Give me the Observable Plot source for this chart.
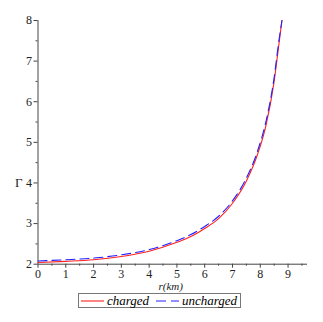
<!DOCTYPE html>
<html>
<head>
<meta charset="utf-8">
<script src="https://cdn.jsdelivr.net/npm/d3@7"></script>
<script src="https://cdn.jsdelivr.net/npm/@observablehq/plot@0.6"></script>
<style>
  body { margin: 0; background: #fff; font-family: "Liberation Serif", serif; }
  #wrap { width: 323px; }
  #wrap svg text { font-family: "Liberation Serif", "DejaVu Serif", serif; }
  #wrap > svg { overflow: visible; }
  .legend { margin: 1px 0 0 78px; width: 161px; height: 13px; border: 1px solid #777;
            display: flex; align-items: center; font-style: italic; font-size: 13px; line-height: 13px; }
  .legend svg { display: block; }
  .legend span { margin: 0 3px 0 3px; }
</style>
</head>
<body>
<div id="wrap"></div>
<script>
const r         = [0,    1,    2,    3,    4,    5,    5.5,  6,    6.5,  7,    7.5,  7.9,  8.2,  8.5,  8.65, 8.78];
const charged   = [2.04, 2.07, 2.11, 2.19, 2.32, 2.54, 2.68, 2.88, 3.12, 3.5,  4.05, 4.7,  5.4,  6.5,  7.3,  8.0];
const uncharged = [2.08, 2.11, 2.15, 2.23, 2.36, 2.58, 2.73, 2.93, 3.18, 3.56, 4.12, 4.78, 5.5,  6.6,  7.4,  8.0];
const xTicks = [0,1,2,3,4,5,6,7,8,9];
const yTicks = [2,3,4,5,6,7,8];
const xMinor = [0.5,1.5,2.5,3.5,4.5,5.5,6.5,7.5,8.5,9.5];
const yMinor = [2.5,3.5,4.5,5.5,6.5,7.5];

const rowsC = r.map((v,i) => ({r: v, g: charged[i]}));
const rowsU = r.map((v,i) => ({r: v, g: uncharged[i]}));

const axisColor = "#444";
const chart = Plot.plot({
  width: 323, height: 292,
  marginLeft: 37.5, marginRight: 16, marginTop: 20, marginBottom: 28.3,
  x: {domain: [0, 9.7], label: null},
  y: {domain: [2, 8], label: null},
  style: {fontFamily: "'Liberation Serif', 'DejaVu Serif', serif", fontSize: "12px", color: "#222", background: "#fff"},
  marks: [
    Plot.ruleX([0], {stroke: axisColor}),
    Plot.ruleY([2], {stroke: axisColor}),
    Plot.axisY({ticks: yMinor, tickSize: 2, text: null, label: null, stroke: axisColor}),
    Plot.axisY({ticks: yTicks, tickSize: 4, tickPadding: 2, stroke: axisColor, label: null, tickFormat: d3.format("d")}),
    Plot.axisX({ticks: xMinor, tickSize: 2, text: null, label: null, stroke: axisColor}),
    Plot.axisX({ticks: xTicks, tickSize: 4, tickPadding: 1, stroke: axisColor, label: null, tickFormat: d3.format("d")}),
    Plot.line(rowsC, {x: "r", y: "g", stroke: "#ff2020", strokeWidth: 1.1, curve: "monotone-x"}),
    Plot.line(rowsU, {x: "r", y: "g", stroke: "#2020ff", strokeWidth: 1.1, strokeDasharray: "9,5", curve: "monotone-x"}),
    Plot.text(["Γ"], {frameAnchor: "left", y: [4], dx: -23, fontSize: 13, fill: "#222"}),
    Plot.text(["r(km)"], {frameAnchor: "bottom", dy: 25.5, dx: -2, fontStyle: "italic", fontSize: 11, fill: "#222"})
  ]
});
const wrap = document.getElementById("wrap");
wrap.appendChild(chart);

const legend = document.createElement("div");
legend.className = "legend";
legend.innerHTML =
  '<svg width="28" height="4" style="margin-left:2px"><line x1="0" y1="2" x2="27" y2="2" stroke="#ff2020" stroke-width="1.1"/></svg>' +
  '<span>charged</span>' +
  '<svg width="28" height="4" style="margin-left:4px"><line x1="0" y1="2" x2="27" y2="2" stroke="#2020ff" stroke-width="1.1" stroke-dasharray="10,5"/></svg>' +
  '<span>uncharged</span>';
wrap.appendChild(legend);
</script>
</body>
</html>
